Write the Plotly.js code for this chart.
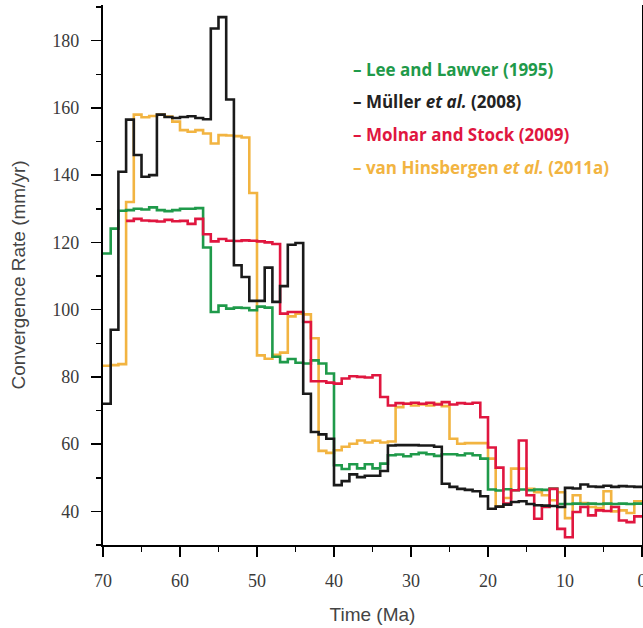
<!DOCTYPE html>
<html>
<head>
<meta charset="utf-8">
<script src="https://cdn.plot.ly/plotly-3.0.1.min.js"></script>
<style>html,body{margin:0;padding:0;background:#fff;}#chart{width:643px;height:628px;}</style>
</head>
<body>
<div id="chart"></div>
<script>
// ---- Data (step-function values; each value holds from its age to the next age) ----
var seriesNames = ['Lee and Lawver (1995)', 'Müller et al. (2008)', 'Molnar and Stock (2009)', 'van Hinsbergen et al. (2011a)'];

var leeAges = [70,69,68,67,66,65,64,63,62,61,60,59,58,57,56,55,54,53,52,51,50,49,48,47,46,45,44,43,42,41,40,39,38,37,36,35,34,33,32,31,30,29,28,27,26,25,24,23,22,21,20,19,18,17,16,15,14,13,12,11,10,9,8,7,6,5,4,3,2,1,0];
var leeRates = [116.7,124.1,129.4,129.6,130,129.8,130.4,129.6,129.3,129.6,130,130,130.2,118.5,99.3,101.2,100.3,100.6,100.5,99.8,100.9,100.6,86,84.4,85.3,84.2,84,84.9,84,81,53.7,52.6,54,52.8,54,52.8,54.2,56.7,56.9,56.4,57,57.4,57,56.5,57,57,56.7,57.2,56.7,55.7,46.5,46.2,46.6,46.3,46.5,46.3,46.5,46.4,46.8,42.2,42.2,42.3,42.2,42.3,42.2,42.3,42.2,42.3,42.2,42.3,42.3];

var mullerAges = [70,69,68,67,66,65,64,63,62,61,60,59,58,57,56,55,54,53,52,51,50,49,48,47,46,45,44,43,42,41,40,39,38,37,36,35,34,33,32,31,30,29,28,27,26,25,24,23,22,21,20,19,18,17,16,15,14,13,12,11,10,9,8,7,6,5,4,3,2,1,0];
var mullerRates = [72,94,141,156.5,146,139.5,140,158,157.3,157,157.3,157.5,157,156.6,183.6,187,162.5,113.2,109.7,102.6,102.6,112.5,102.3,107,119.3,119.8,75,63.6,62.9,61.6,47.8,49,51,50.2,50.6,50.6,52,59.6,59.7,59.7,59.7,59.6,59.6,59.2,48.2,47.3,46.7,46.4,46,44.5,40.8,41.4,42,42.8,43,42.2,41.8,41.7,41.6,41.3,47,46.8,48,47.4,47.3,47.6,47.3,47.5,47.4,47.3,47.3];

var molnarAges = [67,66,65,64,63,62,61,60,59,58,57,56,55,54,53,52,51,50,49,48,47,46,45,44,43,42,41,40,39,38,37,36,35,34,33,32,31,30,29,28,27,26,25,24,23,22,21,20,19,18,17,16,15,14,13,12,11,10,9,8,7,6,5,4,3,2,1,0];
var molnarRates = [126.4,127,126.5,126.4,126.2,126.7,126.3,126.4,125.5,127,122.4,120.3,121,120.5,120.4,120.6,120.5,120.3,120,119.5,98.8,99.3,99.3,96.3,78.7,78.7,78.3,78,79.5,80.2,80,79.8,80.5,74,71.5,72.2,72,72.3,72,72.3,71.8,72.5,71.8,72.2,72,72.3,68,59,53,42.3,46.3,61.1,44.8,37.8,41.3,46.7,34.8,32.3,39.8,41.3,38.8,40.3,40.1,41.3,37.3,36.8,38.5,38.5];

var vanAges = [70,69,68,67,66,65,64,63,62,61,60,59,58,57,56,55,54,53,52,51,50,49,48,47,46,45,44,43,42,41,40,39,38,37,36,35,34,33,32,31,30,29,28,27,26,25,24,23,22,21,20,19,18,17,16,15,14,13,12,11,10,9,8,7,6,5,4,3,2,1,0];
var vanRates = [83.3,83.5,83.8,132,158,157.2,157.6,158,157.4,155.9,153.4,152.9,153.4,152.4,149.4,151.9,151.8,151.6,151.2,134.7,86.4,85.4,86.6,87.2,98,98.8,98.6,91.5,58,57.4,58.2,59.2,60.1,61.1,60.5,61,60.5,60.8,71,72,71.5,71.8,71.5,72,71.3,61.6,60.1,60.3,60.3,60.3,55.7,41.5,44,52.7,52.7,46.7,45.7,44.8,43.3,45.7,38,44.8,42.5,41.3,41,46,40,40.3,39.5,43,43];

var xTickVals = [70,60,50,40,30,20,10,0];
var yTickVals = [40,60,80,100,120,140,160,180];

var colors = ['#1f9a4a', '#1a1a1a', '#e0163f', '#f2b441'];

// ---- Layout geometry ----
var W = 643, H = 628;
var mL = 103, mR = 1, mT = 5, mB = 83;

function stepTrace(ages, rates, color, name) {
  return {x: ages, y: rates, type: 'scatter', mode: 'lines', name: name,
          line: {shape: 'hv', color: color, width: 2.6}, hoverinfo: 'x+y'};
}

var traces = [
  stepTrace(vanAges, vanRates, colors[3], seriesNames[3]),
  stepTrace(leeAges, leeRates, colors[0], seriesNames[0]),
  stepTrace(molnarAges, molnarRates, colors[2], seriesNames[2]),
  stepTrace(mullerAges, mullerRates, colors[1], seriesNames[1])
];

var legendTexts = [
  '<b>– Lee and Lawver (1995)</b>',
  '<b>– Müller <i>et al.</i> (2008)</b>',
  '<b>– Molnar and Stock (2009)</b>',
  '<b>– van Hinsbergen <i>et al.</i> (2011a)</b>'
];
var legendColors = [colors[0], '#222222', colors[2], colors[3]];
var legendPy = [70, 102, 135, 168];
var legendPx = 351;
var plotW = W - mL - mR, plotH = H - mT - mB;
var annotations = legendTexts.map(function (t, i) {
  return {
    text: t, xref: 'paper', yref: 'paper',
    x: (legendPx - mL) / plotW, y: 1 - (legendPy[i] - mT) / plotH,
    xanchor: 'left', yanchor: 'middle', showarrow: false,
    font: {family: '"Open Sans", sans-serif', size: 17, color: legendColors[i]}
  };
});

var tickFont = {family: '"Liberation Serif", "Times New Roman", serif', size: 18, color: '#3a3a3a'};
var titleFont = {family: '"Liberation Sans", Arial, sans-serif', size: 19, color: '#444444'};

var layout = {
  width: W, height: H,
  margin: {l: mL, r: mR, t: mT, b: mB},
  paper_bgcolor: '#ffffff', plot_bgcolor: '#ffffff',
  showlegend: false,
  xaxis: {
    range: [70, 0], tickvals: xTickVals, ticktext: xTickVals.map(String),
    ticks: 'outside', ticklen: 10, tickwidth: 1.5, tickcolor: '#000',
    minor: {dtick: 5, tick0: 0, ticks: 'outside', ticklen: 5, tickwidth: 1.5, tickcolor: '#000', showgrid: false},
    showline: true, linecolor: '#000', linewidth: 2.2,
    showgrid: false, zeroline: false, tickfont: tickFont,
    ticklabelstandoff: 8, ticklabeloverflow: 'allow',
    title: {text: 'Time (Ma)', font: titleFont, standoff: 18}
  },
  yaxis: {
    range: [30, 190.6], tickvals: yTickVals, ticktext: yTickVals.map(String),
    ticks: 'outside', ticklen: 10, tickwidth: 1.5, tickcolor: '#000',
    minor: {dtick: 10, tick0: 0, ticks: 'outside', ticklen: 5, tickwidth: 1.5, tickcolor: '#000', showgrid: false},
    showline: true, linecolor: '#000', linewidth: 2.2, mirror: true,
    showgrid: false, zeroline: false, tickfont: tickFont,
    ticklabelstandoff: 8,
    title: {text: 'Convergence Rate (mm/yr)', font: titleFont, standoff: 22}
  },
  annotations: annotations
};

Plotly.newPlot('chart', traces, layout, {displayModeBar: false, staticPlot: true});
</script>
</body>
</html>
